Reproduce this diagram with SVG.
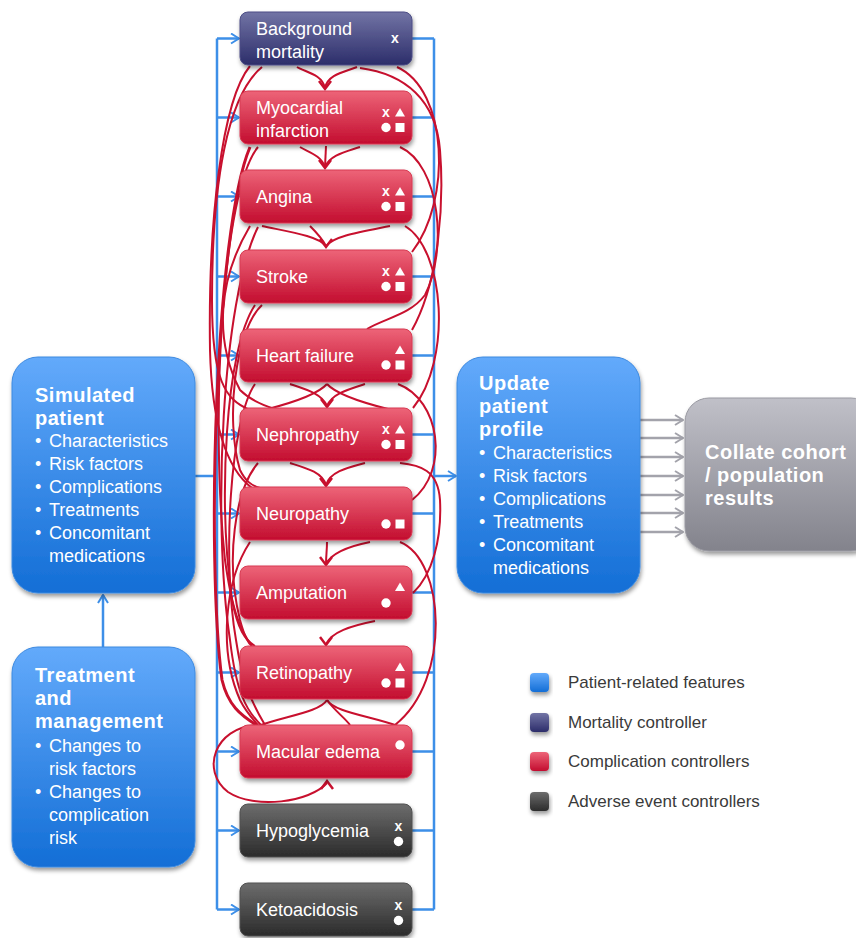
<svg xmlns="http://www.w3.org/2000/svg" width="856" height="938" viewBox="0 0 856 938">
<style>
.blue{stroke:#3d8fe8;stroke-width:2.5;fill:none}
.red{stroke:#c8102e;stroke-width:2;fill:none}
.redT{stroke:#c8102e;stroke-width:3;fill:none}
.gray{stroke:#a3a3ab;stroke-width:2.5;fill:none}
.lbl{font-family:"Liberation Sans",Arial,sans-serif;font-size:18px;fill:#fff}
.ttl{font-family:"Liberation Sans",Arial,sans-serif;font-size:20px;font-weight:bold;letter-spacing:0.5px;fill:#fff}
.icx{font-family:"Liberation Sans",Arial,sans-serif;font-size:14px;font-weight:bold;fill:#fff;text-anchor:middle}
.leg{font-family:"Liberation Sans",Arial,sans-serif;font-size:17px;fill:#3a3a3a}
.ic{fill:#fff}
</style>
<defs>
<linearGradient id="gRed" x1="0" y1="0" x2="0" y2="1"><stop offset="0" stop-color="#ed6478"/><stop offset="1" stop-color="#c30d2f"/></linearGradient>
<linearGradient id="gNavy" x1="0" y1="0" x2="0" y2="1"><stop offset="0" stop-color="#7274a5"/><stop offset="1" stop-color="#2c2d6a"/></linearGradient>
<linearGradient id="gDark" x1="0" y1="0" x2="0" y2="1"><stop offset="0" stop-color="#6d6d6d"/><stop offset="1" stop-color="#2b2b2b"/></linearGradient>
<linearGradient id="gBlue" x1="0" y1="0" x2="0" y2="1"><stop offset="0" stop-color="#63aafb"/><stop offset="1" stop-color="#136ed6"/></linearGradient>
<linearGradient id="gGray" x1="0" y1="0" x2="0" y2="1"><stop offset="0" stop-color="#c0c0c8"/><stop offset="1" stop-color="#83838c"/></linearGradient>
<filter id="sh" x="-20%" y="-20%" width="140%" height="160%"><feDropShadow dx="1" dy="3" stdDeviation="2.2" flood-color="#000" flood-opacity="0.4"/></filter>
<marker id="mBlue" viewBox="0 0 10 12" refX="9" refY="6" markerWidth="10" markerHeight="12" markerUnits="userSpaceOnUse" orient="auto"><path d="M1,1 L9,6 L1,11" fill="none" stroke="#3d8fe8" stroke-width="2"/></marker>
<marker id="mGray" viewBox="0 0 10 12" refX="9" refY="6" markerWidth="10" markerHeight="12" markerUnits="userSpaceOnUse" orient="auto"><path d="M1,1 L9,6 L1,11" fill="none" stroke="#a3a3ab" stroke-width="2"/></marker>
<path id="rh" d="M-6,-8 L0,0 L6,-8" fill="none" stroke="#c8102e" stroke-width="2.5"/>
<path id="tri" d="M0,-4.5 L5,4 L-5,4Z" fill="#fff"/>
<rect id="sq" x="-4.5" y="-4.5" width="9" height="9" fill="#fff"/>
<circle id="ci" r="4.7" fill="#fff"/>
</defs>
<rect width="856" height="938" fill="#fff"/>

<g id="connectors">
<g id="blue-connectors">
<path class="blue" d="M217,38.5 V909.5"/>
<path class="blue" d="M195,476 H217"/>
<path class="blue" marker-end="url(#mBlue)" d="M217,38.5 H239"/>
<path class="blue" marker-end="url(#mBlue)" d="M217,117.5 H239"/>
<path class="blue" marker-end="url(#mBlue)" d="M217,196.5 H239"/>
<path class="blue" marker-end="url(#mBlue)" d="M217,276.5 H239"/>
<path class="blue" marker-end="url(#mBlue)" d="M217,355.5 H239"/>
<path class="blue" marker-end="url(#mBlue)" d="M217,434.5 H239"/>
<path class="blue" marker-end="url(#mBlue)" d="M217,513.5 H239"/>
<path class="blue" marker-end="url(#mBlue)" d="M217,592.5 H239"/>
<path class="blue" marker-end="url(#mBlue)" d="M217,672.5 H239"/>
<path class="blue" marker-end="url(#mBlue)" d="M217,751.5 H239"/>
<path class="blue" marker-end="url(#mBlue)" d="M217,830.5 H239"/>
<path class="blue" marker-end="url(#mBlue)" d="M217,909.5 H239"/>
<path class="blue" d="M434,38.5 V909.5 M412,38.5 H434 M412,117.5 H434 M412,196.5 H434 M412,276.5 H434 M412,355.5 H434 M412,434.5 H434 M412,513.5 H434 M412,592.5 H434 M412,672.5 H434 M412,751.5 H434 M412,830.5 H434 M412,909.5 H434"/>
<path class="blue" marker-end="url(#mBlue)" d="M434,476 H456"/>
<path class="blue" marker-end="url(#mBlue)" d="M103,647 V595"/>
</g>
<g id="gray-connectors">
<path class="gray" marker-end="url(#mGray)" d="M640,420 H683"/>
<path class="gray" marker-end="url(#mGray)" d="M640,438 H683"/>
<path class="gray" marker-end="url(#mGray)" d="M640,457 H683"/>
<path class="gray" marker-end="url(#mGray)" d="M640,476 H683"/>
<path class="gray" marker-end="url(#mGray)" d="M640,495 H683"/>
<path class="gray" marker-end="url(#mGray)" d="M640,513 H683"/>
<path class="gray" marker-end="url(#mGray)" d="M640,532 H683"/>
</g>
<g id="red-connectors">
<path class="red" d="M297,67 C305,72 322,74 325,88"/>
<path class="red" d="M357,67 C345,72 328,74 325,88"/>
<path class="red" d="M262,67 C228,95 212,180 212,300 C212,380 225,400 250,410"/>
<path class="red" d="M250,66 C222,100 208,220 210,350 C212,430 228,470 252,488"/>
<path class="red" d="M397,67 C448,90 452,200 412,252"/>
<path class="red" d="M360,68 C405,74 436,100 440,150 C444,200 440,280 412,330"/>
<path class="red" d="M326,146 L325,167"/>
<path class="red" d="M300,147 C308,152 321,155 325,167"/>
<path class="red" d="M360,147 C345,152 330,155 325,167"/>
<path class="red" d="M258,147 C222,190 210,420 225,560 C232,610 240,630 252,646"/>
<path class="redT" d="M250,147 C215,230 206,560 222,680 C228,705 240,715 258,726"/>
<path class="red" d="M400,147 C440,165 448,250 425,295 C410,315 385,318 367,329"/>
<path class="red" d="M262,226 C290,232 318,236 326,246"/>
<path class="red" d="M390,226 C360,232 334,236 326,246"/>
<path class="red" d="M310,226 C316,232 322,238 326,246"/>
<path class="red" d="M250,226 C218,280 214,340 240,390 C250,400 262,405 275,409"/>
<path class="red" d="M258,227 C222,300 212,520 230,640 C236,690 245,710 262,726"/>
<path class="red" d="M405,226 C445,250 452,360 413,408"/>
<path class="red" d="M255,305 C225,350 218,500 232,600 C238,630 245,640 255,646"/>
<path class="red" d="M262,305 C235,330 225,420 240,470 C245,480 250,485 260,488"/>
<path class="red" d="M290,384 C308,390 322,394 327,406"/>
<path class="red" d="M365,384 C346,390 332,394 327,406"/>
<path class="red" d="M327,384 C318,394 295,402 268,409"/>
<path class="red" d="M327,384 C336,394 360,402 388,409"/>
<path class="red" d="M255,384 C230,420 222,560 236,640 C242,680 250,700 265,725"/>
<path class="red" d="M398,384 C440,400 450,470 412,500"/>
<path class="red" d="M290,463 C306,468 322,472 326,485"/>
<path class="red" d="M365,463 C346,468 330,472 326,485"/>
<path class="red" d="M258,463 C235,490 225,560 240,620 C245,638 248,643 252,646"/>
<path class="red" d="M413,593 C432,575 442,540 440,500 C438,470 420,465 400,463"/>
<path class="red" d="M327,542 C327,550 326,556 326,564"/>
<path class="red" d="M370,542 C350,546 332,552 326,564"/>
<path class="red" d="M400,542 C445,560 452,680 395,725"/>
<path class="red" d="M250,542 C225,580 218,650 240,700 C246,712 252,718 258,725"/>
<path class="red" d="M375,621 C350,626 332,632 326,644"/>
<path class="red" d="M327,700 C320,712 285,716 258,726"/>
<path class="red" d="M327,700 C334,712 370,716 398,726"/>
<path class="red" d="M327,700 C334,710 345,718 350,725"/>
<path class="red" d="M256,725 C215,728 200,770 228,792 C255,810 310,802 327,783"/>
<use href="#rh" x="325" y="89"/>
<use href="#rh" x="325" y="168"/>
<use href="#rh" x="326" y="247"/>
<use href="#rh" x="327" y="407"/>
<use href="#rh" x="326" y="486"/>
<use href="#rh" x="326" y="565"/>
<use href="#rh" x="326" y="645"/>
<use href="#rh" transform="translate(327,781) rotate(180)"/>
</g>
</g>

<g id="simulated-patient">
<rect x="12" y="357" width="183" height="236" rx="26" fill="url(#gBlue)" stroke="#3d8ae0" stroke-width="1" filter="url(#sh)"/>
<text class="ttl" x="35" y="402">Simulated</text>
<text class="ttl" x="35" y="425">patient</text>
<text class="lbl"><tspan x="35" y="447">•</tspan><tspan x="49">Characteristics</tspan></text>
<text class="lbl"><tspan x="35" y="470">•</tspan><tspan x="49">Risk factors</tspan></text>
<text class="lbl"><tspan x="35" y="493">•</tspan><tspan x="49">Complications</tspan></text>
<text class="lbl"><tspan x="35" y="516">•</tspan><tspan x="49">Treatments</tspan></text>
<text class="lbl"><tspan x="35" y="539">•</tspan><tspan x="49">Concomitant</tspan></text>
<text class="lbl" x="49" y="562">medications</text>
</g>

<g id="treatment-management">
<rect x="12" y="647" width="183" height="220" rx="26" fill="url(#gBlue)" stroke="#3d8ae0" stroke-width="1" filter="url(#sh)"/>
<text class="ttl" x="35" y="682">Treatment</text>
<text class="ttl" x="35" y="705">and</text>
<text class="ttl" x="35" y="728">management</text>
<text class="lbl"><tspan x="35" y="752">•</tspan><tspan x="49">Changes to</tspan></text>
<text class="lbl" x="49" y="775">risk factors</text>
<text class="lbl"><tspan x="35" y="798">•</tspan><tspan x="49">Changes to</tspan></text>
<text class="lbl" x="49" y="821">complication</text>
<text class="lbl" x="49" y="844">risk</text>
</g>

<g id="update-profile">
<rect x="457" y="357" width="183" height="236" rx="26" fill="url(#gBlue)" stroke="#3d8ae0" stroke-width="1" filter="url(#sh)"/>
<text class="ttl" x="479" y="390">Update</text>
<text class="ttl" x="479" y="413">patient</text>
<text class="ttl" x="479" y="436">profile</text>
<text class="lbl"><tspan x="479" y="459">•</tspan><tspan x="493">Characteristics</tspan></text>
<text class="lbl"><tspan x="479" y="482">•</tspan><tspan x="493">Risk factors</tspan></text>
<text class="lbl"><tspan x="479" y="505">•</tspan><tspan x="493">Complications</tspan></text>
<text class="lbl"><tspan x="479" y="528">•</tspan><tspan x="493">Treatments</tspan></text>
<text class="lbl"><tspan x="479" y="551">•</tspan><tspan x="493">Concomitant</tspan></text>
<text class="lbl" x="493" y="574">medications</text>
</g>

<g id="collate-results">
<rect x="685" y="398" width="190" height="153" rx="24" fill="url(#gGray)" stroke="#9a9aa2" stroke-width="1" filter="url(#sh)"/>
<text class="ttl" x="705" y="459">Collate cohort</text>
<text class="ttl" x="705" y="482">/ population</text>
<text class="ttl" x="705" y="505">results</text>
</g>

<g id="background-mortality">
<rect x="240" y="12" width="172" height="53" rx="8" fill="url(#gNavy)" stroke="#4c4d85" filter="url(#sh)"/>
<text class="lbl" x="256" y="34.5">Background</text>
<text class="lbl" x="256" y="57.5">mortality</text>
<text class="icx" x="395" y="42.5">x</text>
</g>
<g id="myocardial-infarction">
<rect x="240" y="91" width="172" height="53" rx="8" fill="url(#gRed)" stroke="#d83a52" filter="url(#sh)"/>
<text class="lbl" x="256" y="113.5">Myocardial</text>
<text class="lbl" x="256" y="136.5">infarction</text>
<text class="icx" x="386" y="117">x</text>
<use href="#tri" x="400" y="112.5"/><use href="#ci" x="386" y="127.5"/><use href="#sq" x="400" y="127.5"/>
</g>
<g id="angina">
<rect x="240" y="170" width="172" height="53" rx="8" fill="url(#gRed)" stroke="#d83a52" filter="url(#sh)"/>
<text class="lbl" x="256" y="203">Angina</text>
<text class="icx" x="386" y="196">x</text>
<use href="#tri" x="400" y="191.5"/><use href="#ci" x="386" y="206.5"/><use href="#sq" x="400" y="206.5"/>
</g>
<g id="stroke">
<rect x="240" y="250" width="172" height="53" rx="8" fill="url(#gRed)" stroke="#d83a52" filter="url(#sh)"/>
<text class="lbl" x="256" y="283">Stroke</text>
<text class="icx" x="386" y="276">x</text>
<use href="#tri" x="400" y="271.5"/><use href="#ci" x="386" y="286.5"/><use href="#sq" x="400" y="286.5"/>
</g>
<g id="heart-failure">
<rect x="240" y="329" width="172" height="53" rx="8" fill="url(#gRed)" stroke="#d83a52" filter="url(#sh)"/>
<text class="lbl" x="256" y="362">Heart failure</text>
<use href="#tri" x="400" y="350"/><use href="#ci" x="386" y="365"/><use href="#sq" x="400" y="365"/>
</g>
<g id="nephropathy">
<rect x="240" y="408" width="172" height="53" rx="8" fill="url(#gRed)" stroke="#d83a52" filter="url(#sh)"/>
<text class="lbl" x="256" y="441">Nephropathy</text>
<text class="icx" x="386" y="434">x</text>
<use href="#tri" x="400" y="429.5"/><use href="#ci" x="386" y="444.5"/><use href="#sq" x="400" y="444.5"/>
</g>
<g id="neuropathy">
<rect x="240" y="487" width="172" height="53" rx="8" fill="url(#gRed)" stroke="#d83a52" filter="url(#sh)"/>
<text class="lbl" x="256" y="520">Neuropathy</text>
<use href="#ci" x="386" y="524"/><use href="#sq" x="400" y="524"/>
</g>
<g id="amputation">
<rect x="240" y="566" width="172" height="53" rx="8" fill="url(#gRed)" stroke="#d83a52" filter="url(#sh)"/>
<text class="lbl" x="256" y="599">Amputation</text>
<use href="#tri" x="400" y="587"/><use href="#ci" x="386" y="603"/>
</g>
<g id="retinopathy">
<rect x="240" y="646" width="172" height="53" rx="8" fill="url(#gRed)" stroke="#d83a52" filter="url(#sh)"/>
<text class="lbl" x="256" y="679">Retinopathy</text>
<use href="#tri" x="400" y="667"/><use href="#ci" x="386" y="683"/><use href="#sq" x="400" y="683"/>
</g>
<g id="macular-edema">
<rect x="240" y="725" width="172" height="53" rx="8" fill="url(#gRed)" stroke="#d83a52" filter="url(#sh)"/>
<text class="lbl" x="256" y="758">Macular edema</text>
<use href="#ci" x="400" y="745"/>
</g>
<g id="hypoglycemia">
<rect x="240" y="804" width="172" height="53" rx="8" fill="url(#gDark)" stroke="#505050" filter="url(#sh)"/>
<text class="lbl" x="256" y="837">Hypoglycemia</text>
<text class="icx" x="398.5" y="830.5">x</text>
<use href="#ci" x="398.5" y="841.5"/>
</g>
<g id="ketoacidosis">
<rect x="240" y="883" width="172" height="53" rx="8" fill="url(#gDark)" stroke="#505050" filter="url(#sh)"/>
<text class="lbl" x="256" y="916">Ketoacidosis</text>
<text class="icx" x="398.5" y="909.5">x</text>
<use href="#ci" x="398.5" y="920.5"/>
</g>

<g id="legend">
<rect x="530" y="673" width="19" height="19" rx="4" fill="url(#gBlue)" filter="url(#sh)"/>
<text class="leg" x="568" y="688">Patient-related features</text>
<rect x="530" y="713" width="19" height="19" rx="4" fill="url(#gNavy)" filter="url(#sh)"/>
<text class="leg" x="568" y="728">Mortality controller</text>
<rect x="530" y="752" width="19" height="19" rx="4" fill="url(#gRed)" filter="url(#sh)"/>
<text class="leg" x="568" y="767">Complication controllers</text>
<rect x="530" y="792" width="19" height="19" rx="4" fill="url(#gDark)" filter="url(#sh)"/>
<text class="leg" x="568" y="807">Adverse event controllers</text>
</g>
</svg>
